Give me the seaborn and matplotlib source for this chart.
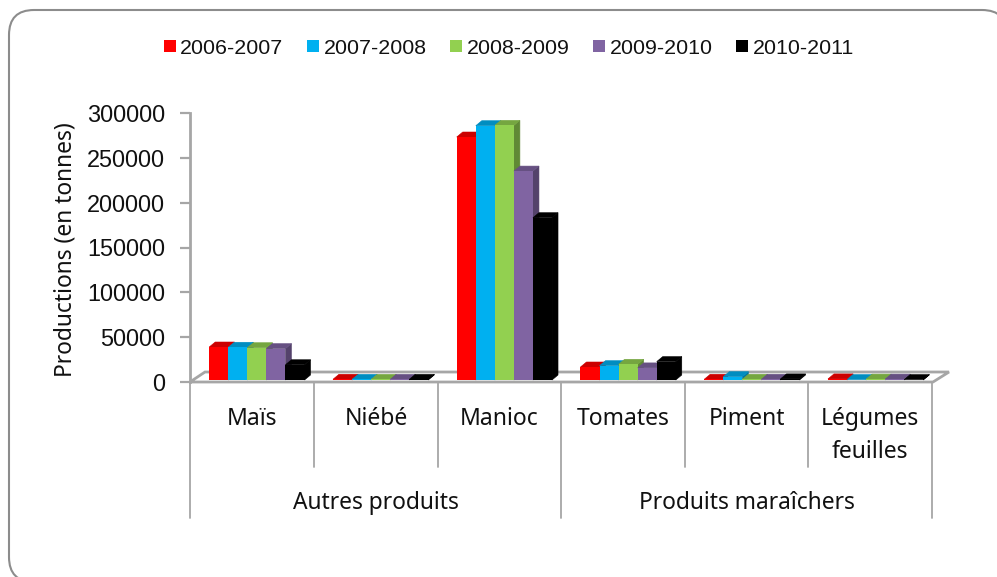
import matplotlib
matplotlib.use('Agg')
import matplotlib.pyplot as plt
import pandas as pd
import seaborn as sns
from matplotlib.colors import to_rgb
from matplotlib.patches import FancyBboxPatch, Polygon

W, H = 997, 577

# values (tonnes)
produits = ['Maïs', 'Niébé', 'Manioc', 'Tomates', 'Piment', 'Légumes\nfeuilles']
groupes = ['Autres produits', 'Produits maraîchers']
annees = ['2006-2007', '2007-2008', '2008-2009', '2009-2010', '2010-2011']
v_2006 = [36800, 800, 271000, 14500, 800, 1200]
v_2007 = [36500, 700, 283600, 16000, 3700, 500]
v_2008 = [36000, 700, 284000, 17500, 800, 1000]
v_2009 = [35000, 700, 233000, 13500, 800, 1000]
v_2010 = [17000, 700, 181000, 20500, 1200, 500]
couleurs = ['#FF0000', '#00B0F0', '#92D050', '#8064A2', '#000000']
y_ticks = [0, 50000, 100000, 150000, 200000, 250000, 300000]

rows = []
for annee, vals in zip(annees, [v_2006, v_2007, v_2008, v_2009, v_2010]):
    for p, v in zip(produits, vals):
        rows.append({'produit': p, 'annee': annee, 'production': v})
df = pd.DataFrame(rows)

GREY = '#A6A6A6'
SANS = 'Liberation Sans'
HUM = 'Noto Sans'


def box(left, top, right, bottom):
    return [left / W, 1 - bottom / H, (right - left) / W, (bottom - top) / H]


sns.set_theme(style='white')
plt.rcParams['font.family'] = [SANS, 'DejaVu Sans']
fig = plt.figure(figsize=(W / 100, H / 100), dpi=100)

# page level layer, works in pixels: border, floor, category dividers
bg = fig.add_axes([0, 0, 1, 1])
bg.set_xlim(0, W)
bg.set_ylim(H, 0)
bg.axis('off')
R = 25
bg.add_patch(FancyBboxPatch((9 + R, 10 + R), 1007 - 9 - 2 * R, 582 - 10 - 2 * R,
                            boxstyle=f'round,pad={R},rounding_size={R}',
                            fc='white', ec='#8C8C8C', lw=1.5))
bg.add_patch(Polygon([(190, 382), (933, 382), (949, 372), (205, 372)], closed=True,
                     fc='white', ec=GREY, lw=2))
seps = [190, 314, 438, 561, 685, 808, 932]
for i, x in enumerate(seps):
    bas = 518 if i % 3 == 0 else 467
    bg.plot([x, x], [382, bas], color=GREY, lw=1.3)
for i, p in enumerate(produits):
    bg.text((seps[i] + seps[i + 1]) / 2, 407, p, ha='center', va='top', fontsize=16.5,
            family=HUM, color='#111111', linespacing=1.5)
for i, g in enumerate(groupes):
    bg.text((seps[i * 3] + seps[i * 3 + 3]) / 2, 503, g, ha='center', va='center',
            fontsize=16.4, family=HUM, color='#111111')

# y axis
ay = fig.add_axes(box(190, 113, 933, 382))
ay.patch.set_alpha(0)
ay.set_ylim(0, 300000)
ay.set_xlim(0, 1)
ay.set_xticks([])
ay.set_yticks(y_ticks)
ay.tick_params(axis='y', length=7, width=1.6, color=GREY, pad=11, labelsize=16.9,
               labelcolor='#111111', left=True)
for s in ['top', 'right', 'bottom']:
    ay.spines[s].set_visible(False)
ay.spines['left'].set_color(GREY)
ay.spines['left'].set_linewidth(2)
ay.set_ylabel('Productions (en tonnes)', fontsize=16.4, family=HUM, color='#111111', labelpad=7,
              y=0.493)

# bars, slightly shifted from the axis frame like the 3D original
ax = fig.add_axes(box(195, 111, 937.5, 380))
ax.patch.set_alpha(0)
sns.barplot(data=df, x='produit', y='production', hue='annee', palette=couleurs,
            saturation=1, width=0.77, errorbar=None, ax=ax, zorder=3, linewidth=0)
ax.set_xlim(-0.5, 5.5)
ax.set_ylim(0, 300000)
ax.set_xlabel('')
ax.set_ylabel('')
ax.set_xticks([])
ax.set_yticks([])
for s in ax.spines.values():
    s.set_visible(False)

# depth of the 3D blocks, in data units
dx = 6 / ((937.5 - 195) / 6)
dy = 5 / (269 / 300000)
bars = [b for c in ax.containers for b in c]
n = len(produits)
for i, b in enumerate(bars):
    serie = i // n
    z = 3 + serie * 2
    base = to_rgb(couleurs[serie])
    cap = tuple(c * 0.8 for c in base)
    side = tuple(c * 0.66 for c in base)
    x0, x1 = b.get_x(), b.get_x() + b.get_width()
    h = b.get_height()
    b.set_zorder(z + 1)
    ax.add_patch(Polygon([(x1, 0), (x1 + dx, dy), (x1 + dx, h + dy), (x1, h)], closed=True,
                         fc=side, ec=side, lw=0.4, zorder=z, clip_on=False))
    ax.add_patch(Polygon([(x0, h), (x0 + dx, h + dy), (x1 + dx, h + dy), (x1, h)], closed=True,
                         fc=cap, ec=cap, lw=0.4, zorder=z, clip_on=False))

sns.move_legend(ax, 'center', bbox_to_anchor=(0.5 - 57.5 / 742, 1.234), ncol=5, frameon=False,
                title=None, fontsize=15.4, handlelength=0.55, handleheight=0.55,
                handletextpad=0.22, columnspacing=1.1, borderaxespad=0)
for t in ax.get_legend().get_texts():
    t.set_color('#111111')

fig.savefig('out.png', dpi=100)
